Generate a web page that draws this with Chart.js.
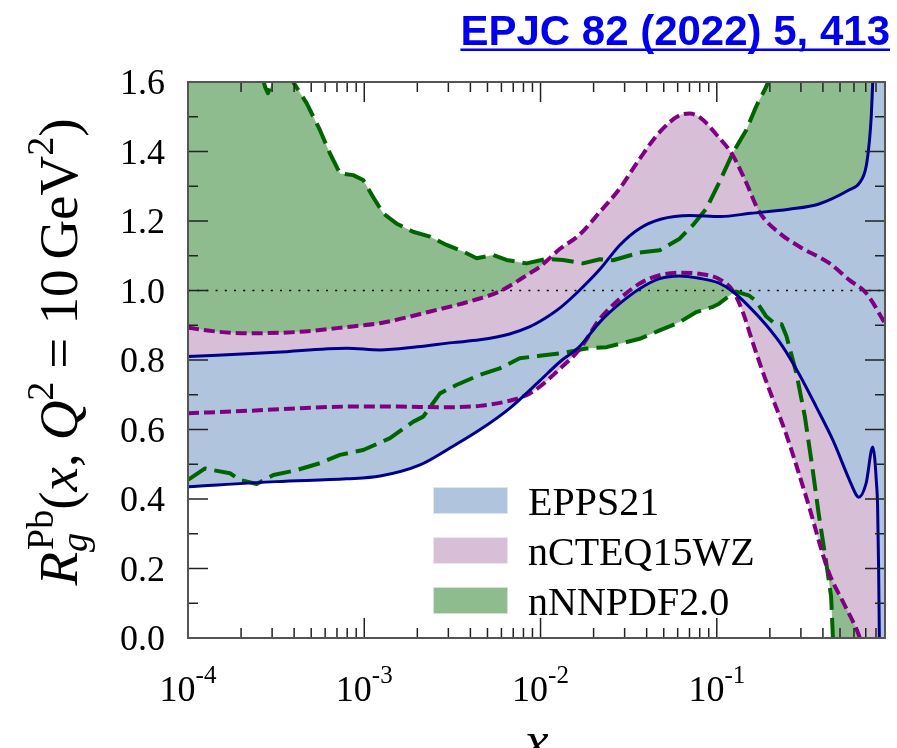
<!DOCTYPE html>
<html>
<head>
<meta charset="utf-8">
<script src="https://cdn.jsdelivr.net/npm/chart.js@4.4.1/dist/chart.umd.min.js"></script>
<style>
  html, body { margin: 0; padding: 0; background: #ffffff; }
  canvas { display: block; }
</style>
</head>
<body>
<canvas id="chart" width="897" height="748"></canvas>
<script>
// Gluon nuclear modification R_g^Pb(x, Q^2 = 10 GeV^2): error bands of three nPDF fits.

// EPPS21 band
const eppsUpperX = [1e-4, 3.16e-4, 7.94e-4, 1.23e-3, 2.0e-3, 3.16e-3, 4.52e-3, 6.68e-3, 8.71e-3, 1.0e-2, 1.29e-2, 1.66e-2, 2.19e-2, 2.82e-2, 3.63e-2, 4.79e-2, 7.08e-2, 0.105, 0.155, 0.257, 0.380, 0.562, 0.646, 0.703, 0.735, 0.752, 0.767, 0.794, 0.9];
const eppsUpperR = [0.810, 0.822, 0.834, 0.829, 0.838, 0.850, 0.858, 0.875, 0.896, 0.912, 0.950, 1.000, 1.063, 1.131, 1.178, 1.205, 1.216, 1.213, 1.222, 1.234, 1.249, 1.289, 1.310, 1.356, 1.433, 1.500, 1.600, 1.850, 2.300];
const eppsLowerX = [1e-4, 3.16e-4, 7.94e-4, 1.23e-3, 2.07e-3, 3.05e-3, 4.52e-3, 6.68e-3, 9.89e-3, 1.29e-2, 1.66e-2, 2.17e-2, 2.81e-2, 3.65e-2, 4.74e-2, 6.15e-2, 7.98e-2, 0.103, 0.123, 0.153, 0.191, 0.237, 0.295, 0.366, 0.455, 0.565, 0.618, 0.638, 0.703, 0.767, 0.786, 0.804, 0.817, 0.828, 0.836, 0.851, 0.9];
const eppsLowerR = [0.435, 0.450, 0.458, 0.466, 0.498, 0.546, 0.599, 0.661, 0.740, 0.795, 0.838, 0.909, 0.962, 1.005, 1.034, 1.042, 1.035, 1.021, 0.997, 0.953, 0.900, 0.838, 0.757, 0.666, 0.570, 0.455, 0.412, 0.405, 0.445, 0.550, 0.520, 0.450, 0.380, 0.200, 0.000, -0.500, -1.000];

// nCTEQ15WZ band
const ncteqUpperX = [1e-4, 1.51e-4, 2.24e-4, 4.27e-4, 8.32e-4, 1.23e-3, 2.34e-3, 4.52e-3, 5.89e-3, 8.71e-3, 9.89e-3, 1.29e-2, 1.66e-2, 2.17e-2, 2.81e-2, 3.65e-2, 4.74e-2, 6.15e-2, 7.01e-2, 7.98e-2, 0.103, 0.123, 0.147, 0.174, 0.227, 0.295, 0.437, 0.566, 0.705, 0.9];
const ncteqUpperR = [0.893, 0.881, 0.877, 0.881, 0.896, 0.906, 0.939, 0.977, 0.998, 1.050, 1.068, 1.120, 1.160, 1.226, 1.293, 1.379, 1.456, 1.504, 1.509, 1.499, 1.440, 1.390, 1.310, 1.227, 1.165, 1.126, 1.078, 1.030, 0.992, 0.906];
const ncteqLowerX = [1e-4, 2.24e-4, 4.27e-4, 8.32e-4, 1.58e-3, 2.69e-3, 4.52e-3, 6.92e-3, 8.71e-3, 9.89e-3, 1.29e-2, 1.66e-2, 2.17e-2, 2.81e-2, 3.65e-2, 4.74e-2, 6.15e-2, 7.98e-2, 0.103, 0.123, 0.140, 0.160, 0.187, 0.248, 0.324, 0.431, 0.531, 0.644, 0.9];
const ncteqLowerR = [0.647, 0.654, 0.661, 0.666, 0.666, 0.664, 0.668, 0.685, 0.704, 0.723, 0.775, 0.830, 0.918, 0.976, 1.020, 1.044, 1.051, 1.048, 1.033, 1.000, 0.940, 0.850, 0.750, 0.585, 0.400, 0.190, 0.095, 0.004, -0.250];

// nNNPDF2.0 band
const nnpdfUpperX = [1e-4, 1.73e-4, 2.63e-4, 2.74e-4, 2.84e-4, 2.96e-4, 3.16e-4, 3.55e-4, 3.95e-4, 4.71e-4, 5.60e-4, 6.38e-4, 7.28e-4, 8.65e-4, 9.86e-4, 1.12e-3, 1.28e-3, 1.52e-3, 1.89e-3, 2.36e-3, 2.93e-3, 3.64e-3, 4.34e-3, 5.38e-3, 6.41e-3, 8.32e-3, 1.08e-2, 1.34e-2, 1.74e-2, 2.17e-2, 2.58e-2, 3.65e-2, 4.74e-2, 6.15e-2, 7.31e-2, 8.71e-2, 0.103, 0.123, 0.147, 0.167, 0.191, 0.227, 0.316, 0.501, 0.9];
const nnpdfUpperR = [1.75, 1.70, 1.62, 1.585, 1.568, 1.59, 1.65, 1.64, 1.60, 1.539, 1.462, 1.395, 1.337, 1.332, 1.318, 1.270, 1.222, 1.193, 1.169, 1.155, 1.131, 1.112, 1.093, 1.102, 1.088, 1.078, 1.091, 1.088, 1.078, 1.090, 1.087, 1.109, 1.116, 1.149, 1.188, 1.235, 1.310, 1.395, 1.462, 1.529, 1.587, 1.70, 1.90, 2.10, 2.30];
const nnpdfLowerX = [1e-4, 1.25e-4, 1.39e-4, 1.73e-4, 1.97e-4, 2.45e-4, 3.05e-4, 4.13e-4, 5.60e-4, 7.28e-4, 9.86e-4, 1.40e-3, 1.89e-3, 2.16e-3, 2.69e-3, 3.33e-3, 4.52e-3, 5.87e-3, 7.62e-3, 9.89e-3, 1.29e-2, 1.82e-2, 2.37e-2, 3.65e-2, 4.74e-2, 6.15e-2, 7.66e-2, 9.51e-2, 0.103, 0.123, 0.129, 0.153, 0.167, 0.191, 0.213, 0.233, 0.248, 0.283, 0.316, 0.348, 0.379, 0.414, 0.445, 0.455, 0.465, 0.9];
const nnpdfLowerR = [0.455, 0.488, 0.483, 0.474, 0.455, 0.443, 0.469, 0.483, 0.503, 0.527, 0.541, 0.575, 0.622, 0.637, 0.704, 0.728, 0.757, 0.776, 0.805, 0.812, 0.819, 0.833, 0.837, 0.861, 0.885, 0.909, 0.938, 0.953, 0.962, 0.992, 0.997, 0.985, 0.970, 0.925, 0.905, 0.903, 0.870, 0.762, 0.637, 0.493, 0.355, 0.230, 0.120, 0.010, -0.300, -1.000];

// Reference line and axes
const unityLine = [1.0, 1.0];
const xRange = [1e-4, 0.9];
const yRange = [0.0, 1.6];
const xMajorTicks = [1e-4, 1e-3, 1e-2, 1e-1];
const xMajorExponents = ['-4', '-3', '-2', '-1'];
const yMajorTicks = [0.0, 0.2, 0.4, 0.6, 0.8, 1.0, 1.2, 1.4, 1.6];
const seriesNames = ['EPPS21', 'nCTEQ15WZ', 'nNNPDF2.0'];
const citation = 'EPJC 82 (2022) 5, 413';

const colors = {
  eppsFill: '#b0c4de', eppsLine: '#00008b',
  ncteqFill: '#d8bfd8', ncteqLine: '#800080',
  nnpdfFill: '#8fbc8f', nnpdfLine: '#006400'
};

const SERIF = '"Liberation Serif", "Times New Roman", serif';
const pts = (xs, ys) => xs.map((x, i) => ({ x: x, y: ys[i] }));

function line(ctx, x1, y1, x2, y2) {
  ctx.beginPath(); ctx.moveTo(x1, y1); ctx.lineTo(x2, y2); ctx.stroke();
}

// Frame, inward ticks, tick labels, axis titles, legend and citation
const decorations = {
  id: 'decorations',
  afterDraw(chart) {
    const ctx = chart.ctx;
    const { left, right, top, bottom } = chart.chartArea;
    const xs = chart.scales.x, ys = chart.scales.y;
    ctx.save();

    // ticks
    ctx.strokeStyle = '#222';
    ctx.lineWidth = 1.5;
    for (let i = 0; i < yMajorTicks.length; i++) {
      const y = ys.getPixelForValue(yMajorTicks[i]);
      line(ctx, left, y, left + 20, y);
      line(ctx, right, y, right - 20, y);
      if (i < yMajorTicks.length - 1) {
        const ym = ys.getPixelForValue((yMajorTicks[i] + yMajorTicks[i + 1]) / 2);
        line(ctx, left, ym, left + 10, ym);
        line(ctx, right, ym, right - 10, ym);
      }
    }
    xMajorTicks.forEach(d => {
      for (let k = 1; k <= 9; k++) {
        const v = k * d;
        if (v > xRange[1] * 1.0001) break;
        const x = xs.getPixelForValue(v);
        const len = k === 1 ? 20 : 10;
        line(ctx, x, bottom, x, bottom - len);
        line(ctx, x, top, x, top + len);
      }
    });

    // frame
    ctx.strokeStyle = '#555';
    ctx.lineWidth = 2;
    ctx.strokeRect(left, top, right - left, bottom - top);

    // y tick labels
    ctx.fillStyle = '#000';
    ctx.font = '36px ' + SERIF;
    ctx.textAlign = 'right';
    ctx.textBaseline = 'alphabetic';
    yMajorTicks.forEach(v => {
      ctx.fillText(v.toFixed(1), left - 23, ys.getPixelForValue(v) + 12);
    });

    // x tick labels: 10 with a raised exponent
    ctx.textAlign = 'left';
    xMajorTicks.forEach((v, i) => {
      const x = xs.getPixelForValue(v);
      ctx.font = '36px ' + SERIF;
      const wBase = ctx.measureText('10').width;
      ctx.font = '25px ' + SERIF;
      const wExp = ctx.measureText(xMajorExponents[i]).width;
      const x0 = x - (wBase + wExp) / 2;
      ctx.font = '36px ' + SERIF;
      ctx.fillText('10', x0, 701);
      ctx.font = '25px ' + SERIF;
      ctx.fillText(xMajorExponents[i], x0 + wBase, 683);
    });

    // x axis title
    ctx.font = 'italic 54px ' + SERIF;
    ctx.textAlign = 'center';
    ctx.fillText('x', (left + right) / 2, 759);

    // y axis title, rotated
    const big = '55px ' + SERIF, bigIt = 'italic 55px ' + SERIF;
    const sm = '38px ' + SERIF, smIt = 'italic 38px ' + SERIF;
    const pieces = [
      { t: 'R', f: bigIt, dy: 0 },
      { stack: true, sup: 'Pb', supF: sm, sub: 'g', subF: smIt, supDy: -24, subDy: 10, gap: 2 },
      { t: '(', f: big, dy: 0 },
      { t: 'x', f: bigIt, dy: 0 },
      { t: ',', f: big, dy: 0 },
      { space: 13 },
      { t: 'Q', f: bigIt, dy: 0 },
      { t: '2', f: sm, dy: -24 },
      { space: 13 },
      { t: '=', f: big, dy: 0 },
      { space: 13 },
      { t: '10', f: big, dy: 0 },
      { space: 10 },
      { t: 'GeV', f: big, dy: 0 },
      { t: '2', f: sm, dy: -24 },
      { t: ')', f: big, dy: 0 }
    ];
    const widthOf = p => {
      if (p.space) return p.space;
      if (p.stack) {
        ctx.font = p.supF; const a = ctx.measureText(p.sup).width;
        ctx.font = p.subF; const b = ctx.measureText(p.sub).width;
        return Math.max(a, b) + p.gap;
      }
      ctx.font = p.f; return ctx.measureText(p.t).width;
    };
    const total = pieces.reduce((s, p) => s + widthOf(p), 0);
    ctx.save();
    ctx.translate(77, 352);
    ctx.rotate(-Math.PI / 2);
    ctx.textAlign = 'left';
    let cx = -total / 2;
    pieces.forEach(p => {
      const w = widthOf(p);
      if (p.stack) {
        ctx.font = p.supF; ctx.fillText(p.sup, cx + p.gap, p.supDy);
        ctx.font = p.subF; ctx.fillText(p.sub, cx, p.subDy);
      } else if (!p.space) {
        ctx.font = p.f; ctx.fillText(p.t, cx, p.dy);
      }
      cx += w;
    });
    ctx.restore();

    // legend
    const fills = [colors.eppsFill, colors.ncteqFill, colors.nnpdfFill];
    ctx.font = '40px ' + SERIF;
    ctx.textAlign = 'left';
    seriesNames.forEach((name, i) => {
      const by = 487 + i * 50;
      ctx.fillStyle = fills[i];
      ctx.fillRect(433, by, 75, 27);
      ctx.strokeStyle = 'rgba(255,255,255,0.6)';
      ctx.lineWidth = 1;
      ctx.strokeRect(433.5, by + 0.5, 74, 26);
      ctx.fillStyle = '#000';
      ctx.fillText(name, 528, by + 28);
    });

    // citation link
    ctx.font = 'bold 42px "Liberation Sans", Arial, sans-serif';
    ctx.textAlign = 'right';
    ctx.fillStyle = '#0000ee';
    ctx.fillText(citation, 890, 45);
    const tw = ctx.measureText(citation).width;
    ctx.fillRect(890 - tw, 48.5, tw, 2.5);

    ctx.restore();
  }
};

const smooth = { tension: 0, cubicInterpolationMode: 'monotone' };

new Chart(document.getElementById('chart'), {
  type: 'line',
  data: {
    datasets: [
      Object.assign({ label: 'EPPS21 lower', data: pts(eppsLowerX, eppsLowerR), borderColor: colors.eppsLine, borderWidth: 3, fill: false }, smooth),
      Object.assign({ label: seriesNames[0], data: pts(eppsUpperX, eppsUpperR), borderColor: colors.eppsLine, borderWidth: 3, backgroundColor: colors.eppsFill, fill: '-1' }, smooth),
      Object.assign({ label: 'nCTEQ15WZ lower', data: pts(ncteqLowerX, ncteqLowerR), borderColor: colors.ncteqLine, borderWidth: 4, borderDash: [11, 5], fill: false }, smooth),
      Object.assign({ label: seriesNames[1], data: pts(ncteqUpperX, ncteqUpperR), borderColor: colors.ncteqLine, borderWidth: 4, borderDash: [11, 5], backgroundColor: colors.ncteqFill, fill: '-1' }, smooth),
      { label: 'nNNPDF2.0 lower', data: pts(nnpdfLowerX, nnpdfLowerR), borderColor: colors.nnpdfLine, borderWidth: 4, borderDash: [22, 8], fill: false, tension: 0 },
      { label: seriesNames[2], data: pts(nnpdfUpperX, nnpdfUpperR), borderColor: colors.nnpdfLine, borderWidth: 4, borderDash: [22, 8], backgroundColor: colors.nnpdfFill, fill: '-1', tension: 0 },
      { label: 'unity', data: pts(xRange, unityLine), borderColor: '#000', borderWidth: 1.5, borderDash: [2, 7.2], fill: false, tension: 0 }
    ]
  },
  options: {
    responsive: false,
    animation: false,
    devicePixelRatio: 1,
    layout: { padding: { left: 188, top: 82, right: 12, bottom: 110 } },
    elements: { point: { radius: 0, hoverRadius: 0 }, line: { borderCapStyle: 'butt', borderJoinStyle: 'round' } },
    datasets: { line: { clip: 0 } },
    scales: {
      x: { type: 'logarithmic', min: xRange[0], max: xRange[1], display: false },
      y: { type: 'linear', min: yRange[0], max: yRange[1], display: false }
    },
    plugins: {
      legend: { display: false },
      tooltip: { enabled: false },
      filler: { drawTime: 'beforeDatasetsDraw', propagate: false }
    }
  },
  plugins: [decorations]
});
</script>
</body>
</html>
